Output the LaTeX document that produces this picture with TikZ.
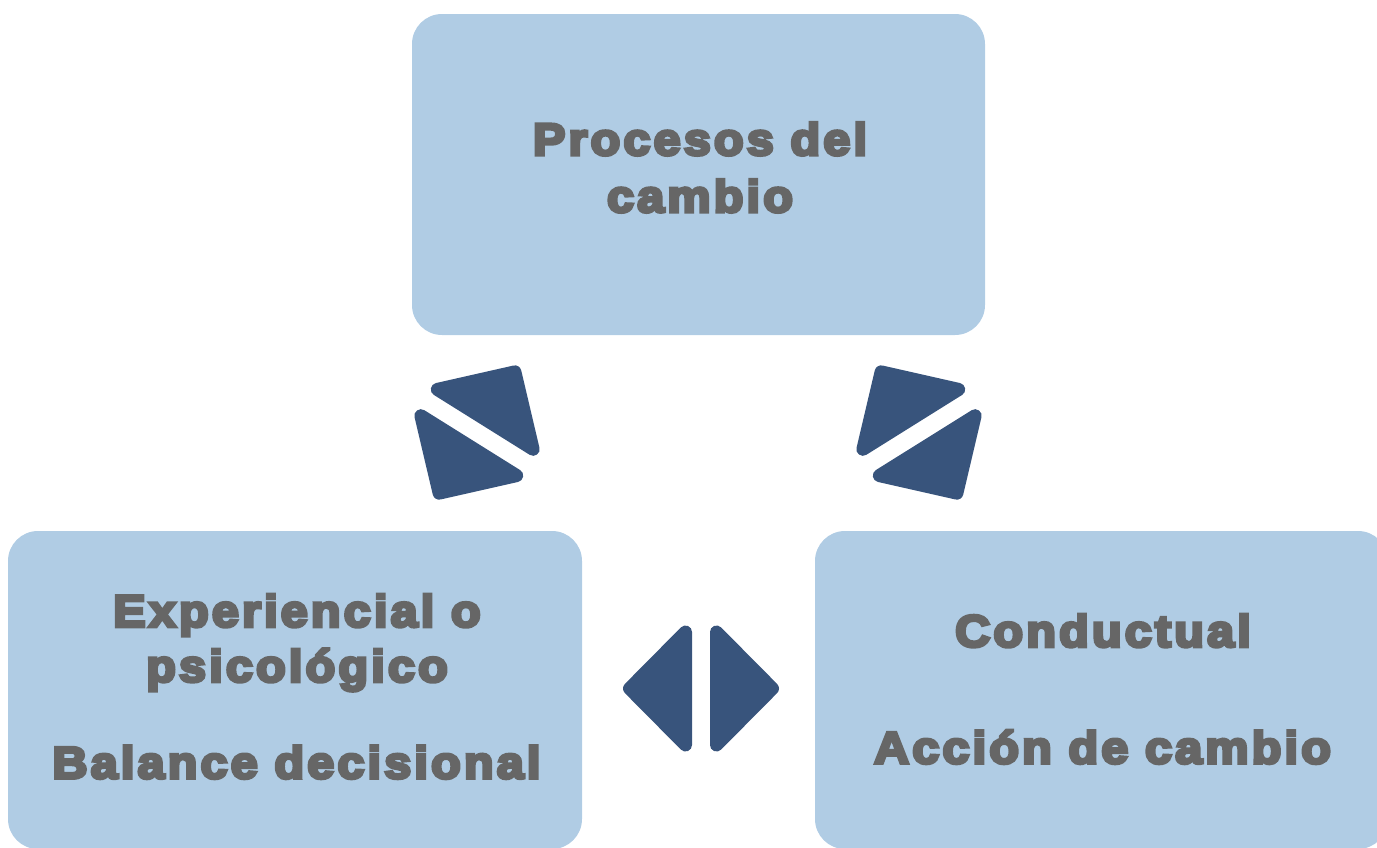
\documentclass[tikz,border=0pt]{standalone}
\usepackage{fontspec}
\newfontfamily\lblfont{Liberation Sans Bold}[LetterSpace=7,FakeBold=7,FakeStretch=1.08]
\definecolor{boxfill}{RGB}{176,204,228}
\definecolor{arrowfill}{RGB}{56,84,124}
\definecolor{txtgray}{RGB}{102,102,102}
\begin{document}
\begin{tikzpicture}[x=1pt,y=-1pt,
  panel/.style={rectangle, rounded corners=30pt, fill=boxfill, draw=none, inner sep=0pt},
  lbl/.style={anchor=base, text=txtgray, inner sep=0pt, font=\lblfont\fontsize{45}{52}\selectfont},
  tri/.style={fill=arrowfill, draw=arrowfill, line width=13pt, line join=round}]
\clip (0,0) rectangle (1377,847);
% boxes
\node[panel, minimum width=573pt, minimum height=321pt] (top) at (698.5,174.5) {};
\node[panel, minimum width=574pt, minimum height=318pt] (left) at (295,690) {};
\node[panel, minimum width=573pt, minimum height=318pt] (right) at (1101.5,690) {};
% texts
\node[lbl] (t1) at (700,155) {Procesos del};
\node[lbl] (t2) at (700,212) {cambio};
\node[lbl] (l1) at (297,626.7) {Experiencial o};
\node[lbl] (l2) at (297,681.7) {psicológico};
\node[lbl] (l3) at (296.5,778.3) {Balance decisional};
\node[lbl] (r1) at (1103,646.7) {Conductual};
\node[lbl] (r2) at (1102.5,763.3) {Acción de cambio};
% arrow pairs
\begin{scope}[shift={(701,688.5)}]
  \filldraw[tri] (-71.5,0) -- (-15.5,-56.5) -- (-15.5,56.5) -- cycle;
  \filldraw[tri] (71.5,0) -- (15.5,-56.5) -- (15.5,56.5) -- cycle;
\end{scope}
\begin{scope}[shift={(477,432.5)}, rotate=58]
  \filldraw[tri] (-71.5,0) -- (-15.5,-56.5) -- (-15.5,56.5) -- cycle;
  \filldraw[tri] (71.5,0) -- (15.5,-56.5) -- (15.5,56.5) -- cycle;
\end{scope}
\begin{scope}[shift={(919,432.5)}, rotate=122]
  \filldraw[tri] (-71.5,0) -- (-15.5,-56.5) -- (-15.5,56.5) -- cycle;
  \filldraw[tri] (71.5,0) -- (15.5,-56.5) -- (15.5,56.5) -- cycle;
\end{scope}
\end{tikzpicture}
\end{document}
